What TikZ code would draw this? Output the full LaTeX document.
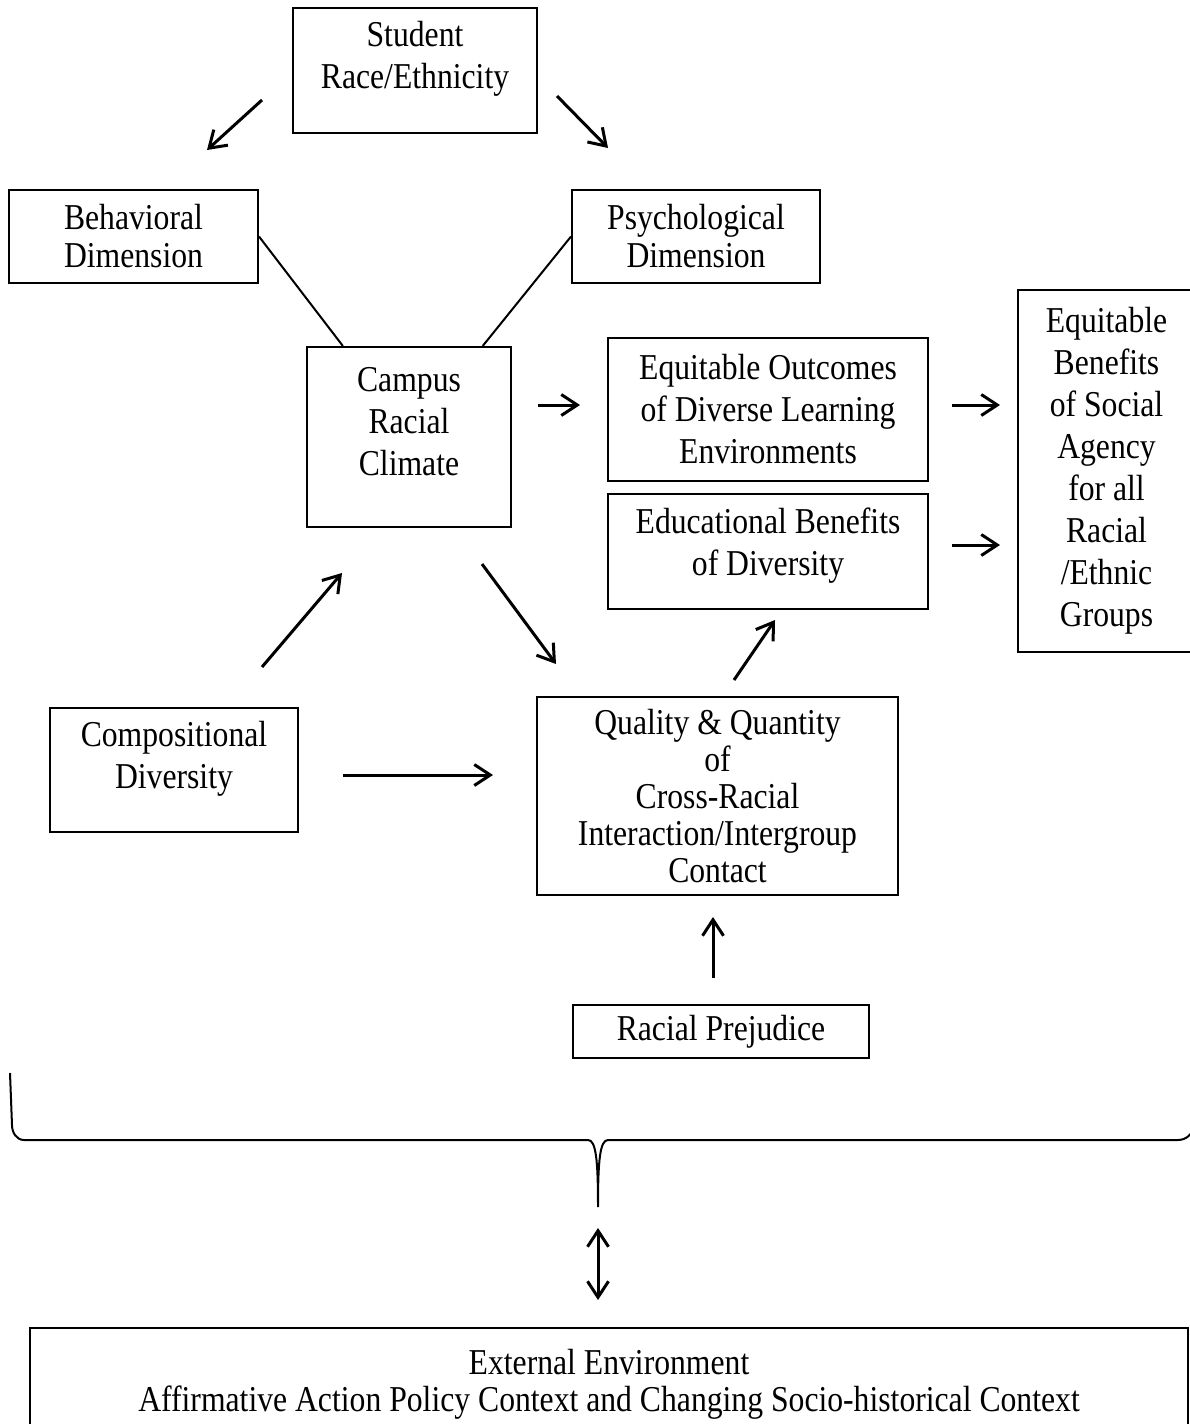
\documentclass[tikz,border=0pt]{standalone}
\usepackage{fontspec}
\setmainfont{Liberation Serif}[FakeStretch=0.87]
\usetikzlibrary{arrows.meta}

\begin{document}
\begin{tikzpicture}[scale=0.5,
  box/.style={draw,line width=1bp,align=center,inner sep=0pt,font=\fontsize{18.2bp}{21bp}\selectfont},
  tight/.style={font=\fontsize{18.2bp}{18.5bp}\selectfont},
  arr/.style={-{Straight Barb[length=8bp,width=10.5bp]},line width=1.5bp},
  lnk/.style={line width=1bp}]
\useasboundingbox (0bp,0bp) rectangle (1190bp,-1424bp);
% boxes

\node (stu) at (415bp,-70.5bp)[box,minimum width=122bp,minimum height=62.5bp,text depth=16bp] {Student\\Race/Ethnicity};
\node (beh) at (133.5bp,-236.5bp)[box,font=\fontsize{18.2bp}{19bp}\selectfont,minimum width=124.5bp,minimum height=46.5bp] {Behavioral\\Dimension};
\node (psy) at (696bp,-236.5bp)[box,font=\fontsize{18.2bp}{19bp}\selectfont,minimum width=124bp,minimum height=46.5bp] {Psychological\\Dimension};
\node (cam) at (409bp,-437bp)[box,minimum width=102bp,minimum height=90bp,text depth=16bp] {Campus\\Racial\\Climate};
\node (eqo) at (768bp,-409.5bp)[box,minimum width=160bp,minimum height=71.5bp] {Equitable Outcomes\\of Diverse Learning\\Environments};
\node (edb) at (768bp,-551.5bp)[box,minimum width=160bp,minimum height=57.5bp,text depth=10bp] {Educational Benefits\\of Diversity};
\node (eqb) at (1106.5bp,-471bp)[box,minimum width=88.5bp,minimum height=181bp] {Equitable\\Benefits\\of Social\\Agency\\for all\\Racial\\/Ethnic\\Groups};
\node (cmp) at (174bp,-770bp)[box,minimum width=124bp,minimum height=62bp,text depth=15bp] {Compositional\\Diversity};
\node (qua) at (717.5bp,-796bp)[box,tight,minimum width=180.5bp,minimum height=99bp] {Quality \& Quantity\\of\\Cross-Racial\\Interaction/Intergroup\\Contact};
\node (pre) at (721bp,-1031.5bp)[box,minimum width=148bp,minimum height=26.5bp] {Racial Prejudice};
\node (ext) at (609bp,-1384bp)[box,tight,minimum width=579bp,minimum height=56bp] {External Environment\\Affirmative Action Policy Context and Changing Socio-historical Context};

% arrow ends
\coordinate (sb1) at (262bp,-100bp); \coordinate (sb2) at (207bp,-150bp);
\coordinate (sp1) at (557bp,-96bp);  \coordinate (sp2) at (608bp,-148bp);
\coordinate (ce1) at (538bp,-405bp); \coordinate (ce2) at (580bp,-405bp);
\coordinate (ee1) at (952bp,-405bp); \coordinate (ee2) at (1000bp,-405bp);
\coordinate (be1) at (952bp,-545bp); \coordinate (be2) at (1000bp,-545bp);
\coordinate (cc1) at (262bp,-667bp); \coordinate (cc2) at (342bp,-573bp);
\coordinate (cq1) at (482bp,-564bp); \coordinate (cq2) at (556bp,-664bp);
\coordinate (qe1) at (734bp,-680bp); \coordinate (qe2) at (775bp,-620bp);
\coordinate (mq1) at (343bp,-775bp); \coordinate (mq2) at (493bp,-775bp);
\coordinate (pq1) at (713bp,-978bp); \coordinate (pq2) at (713bp,-917bp);
\coordinate (x1) at (598bp,-1228bp); \coordinate (x2) at (598bp,-1300bp);

\draw [arr] (sb1) -- (sb2);
\draw [arr] (sp1) -- (sp2);
\draw [lnk] (beh.east) -- (cam.126);
\draw [lnk] (psy.west) -- (cam.51);
\draw [arr] (ce1) -- (ce2);
\draw [arr] (ee1) -- (ee2);
\draw [arr] (be1) -- (be2);
\draw [arr] (cc1) -- (cc2);
\draw [arr] (cq1) -- (cq2);
\draw [arr] (qe1) -- (qe2);
\draw [arr] (mq1) -- (mq2);
\draw [arr] (pq1) -- (pq2);
\draw [arr,{Straight Barb[length=8bp,width=10.5bp]}-{Straight Barb[length=8bp,width=10.5bp]}] (x1) -- (x2);

% brace
\draw [lnk] (10bp,-1073bp) -- (12bp,-1125bp) to[out=-90,in=180] (24bp,-1140bp) -- (588bp,-1140bp)
  .. controls (596bp,-1140bp) and (598bp,-1160bp) .. (598bp,-1207bp)
  .. controls (598bp,-1160bp) and (600bp,-1140bp) .. (608bp,-1140bp) -- (1178bp,-1140bp)
  to[out=0,in=-90] (1194bp,-1124bp) -- (1195bp,-1073bp);

\end{tikzpicture}
\end{document}
